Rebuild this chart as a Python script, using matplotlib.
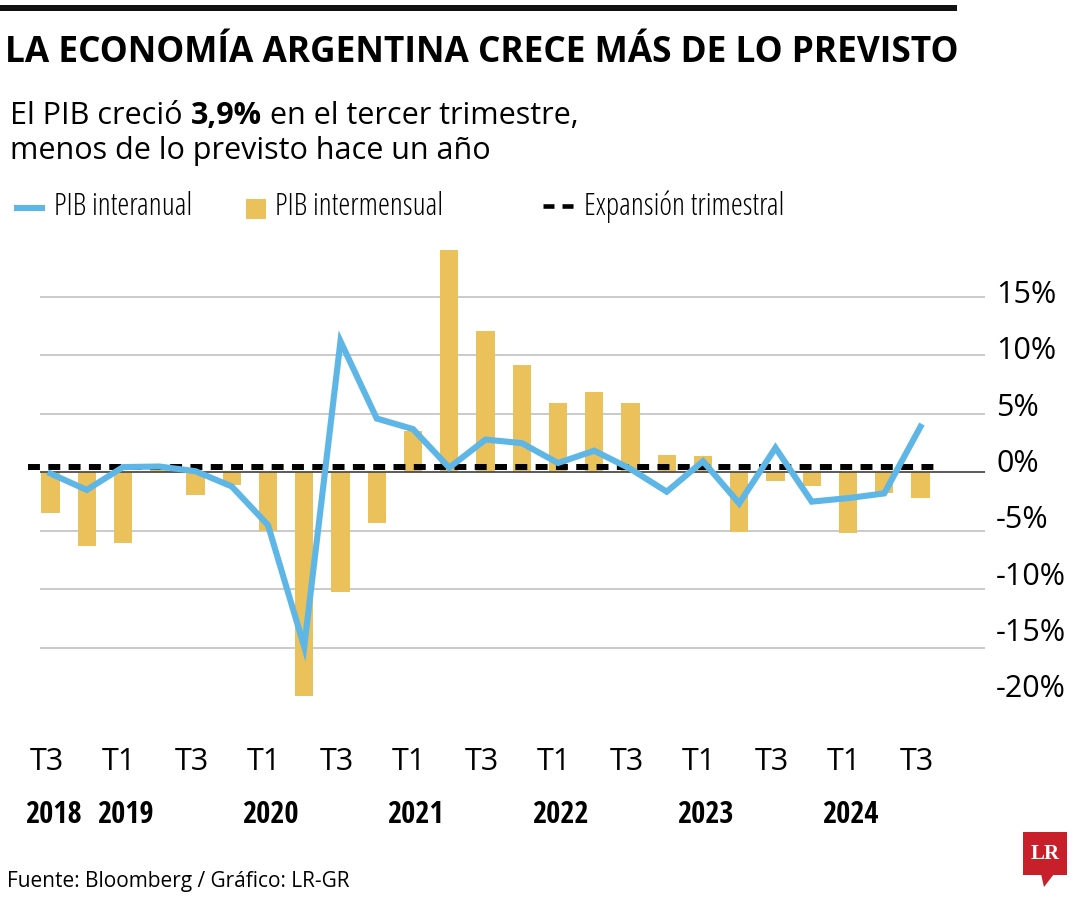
"""Argentina GDP: year-on-year vs quarter figures, La República style."""
import matplotlib

matplotlib.use("Agg")
import matplotlib.pyplot as plt
import matplotlib.transforms as mtransforms
from matplotlib import font_manager
from matplotlib.font_manager import FontProperties
from matplotlib.patches import Polygon, Rectangle
import numpy as np

# --- data ----------------------------------------------------------------
quarters = [
    "2018T3", "2018T4",
    "2019T1", "2019T2", "2019T3", "2019T4",
    "2020T1", "2020T2", "2020T3", "2020T4",
    "2021T1", "2021T2", "2021T3", "2021T4",
    "2022T1", "2022T2", "2022T3", "2022T4",
    "2023T1", "2023T2", "2023T3", "2023T4",
    "2024T1", "2024T2", "2024T3",
]
pib_intermensual = [
    -3.5, -6.3, -6.0, 0.6, -1.9, -1.1, -5.0, -19.1, -10.2, -4.3,
    3.5, 19.0, 12.1, 9.2, 5.9, 6.9, 5.9, 1.5, 1.4, -5.1,
    -0.75, -1.2, -5.2, -1.8, -2.2,
]
pib_interanual = [
    -0.1, -1.5, 0.45, 0.5, 0.1, -1.2, -4.5, -14.9, 11.2, 4.6,
    3.7, 0.4, 2.8, 2.5, 0.8, 1.85, 0.3, -1.65, 0.95, -2.65,
    2.1, -2.5, -2.2, -1.8, 3.9,
]
expansion_trimestral = 0.5

tick_idx = list(range(0, 25, 2))
tick_labels = ["T3", "T1"] * 6 + ["T3"]
year_idx = [0, 2, 6, 10, 14, 18, 22]
year_labels = ["2018", "2019", "2020", "2021", "2022", "2023", "2024"]
y_ticks = [15, 10, 5, 0, -5, -10, -15, -20]
y_tick_labels = ["15%", "10%", "5%", "0%", "-5%", "-10%", "-15%", "-20%"]

# --- style ---------------------------------------------------------------
BLUE = "#5db6e6"
GOLD = "#ebc15b"
GRID = "#c6c6c6"
RED = "#c8202b"

ttf = font_manager.fontManager.ttflist
available = {f.name for f in ttf}
MAIN = "Open Sans" if "Open Sans" in available else "DejaVu Sans"

# condensed faces (legend, years); pick exact files by weight
NARROW_STRETCHES = ("condensed", "semi-condensed", "extra-condensed")
PREF = ["Open Sans", "Noto Sans", "Roboto", "Liberation Sans", "DejaVu Sans"]


def _weight(f):
    w = f.weight
    return font_manager.weight_dict.get(w, 400) if isinstance(w, str) else int(w)


narrow = [f for f in ttf
          if (str(f.stretch) in NARROW_STRETCHES or "Condensed" in f.name
              or "Narrow" in f.name) and f.style == "normal"]


def narrow_file(target_weight):
    if not narrow:
        return None
    best = min(narrow, key=lambda f: (
        next((i for i, p in enumerate(PREF) if f.name.startswith(p)), 99),
        abs(_weight(f) - target_weight)))
    fam = [f for f in narrow if f.name == best.name]
    return min(fam, key=lambda f: abs(_weight(f) - target_weight)).fname


NARROW_REG = narrow_file(400)
NARROW_BOLD = narrow_file(700)


def narrow_font(size, weight="normal"):
    path = NARROW_BOLD if weight == "bold" else NARROW_REG
    if path:
        return FontProperties(fname=path, size=size)
    return FontProperties(family=MAIN, size=size * 0.85, weight=weight)


plt.rcParams["font.family"] = [MAIN, "DejaVu Sans"]

W, H = 1080, 900
fig = plt.figure(figsize=(W / 100, H / 100), dpi=100)


def fx(px):
    return px / W


def fy(py):
    return 1 - py / H


# plot area in pixels: x 28..985, y 240..710
ax = fig.add_axes([fx(28), fy(710), fx(985 - 28), (710 - 240) / H])
x = np.arange(len(quarters))
ax.set_xlim(-0.62, 25.78)
ax.set_ylim(-20.3, 19.85)

for v in [15, 10, 5, -5, -10, -15]:
    ax.hlines(v, -0.29, 25.78, color=GRID, lw=1.3, zorder=1)
ax.hlines(0, -0.29, 25.78, color="#4d4d4d", lw=1.3, zorder=3)

ax.bar(x, pib_intermensual, width=0.5, color=GOLD, zorder=2)
ax.hlines(expansion_trimestral, -0.62, 24.45, color="black", lw=4.3,
          linestyles=(0, (2.0, 1.4)), zorder=4)
ax.plot(x, pib_interanual, color=BLUE, lw=4.4, solid_joinstyle="miter", zorder=5)

for s in ax.spines.values():
    s.set_visible(False)

ax.set_xticks(tick_idx)
ax.set_xticklabels(tick_labels, fontsize=22, family=MAIN)
ax.tick_params(axis="x", length=0, pad=27)
for lab in ax.get_xticklabels():
    lab.set_transform(lab.get_transform() + mtransforms.Affine2D().translate(-4, 0))

ax.yaxis.tick_right()
ax.set_yticks(y_ticks)
ax.set_yticklabels(y_tick_labels, fontsize=22, family=MAIN)
ax.tick_params(axis="y", length=0, pad=8)
for v, lab in zip(y_ticks, ax.get_yticklabels()):
    lab.set_transform(lab.get_transform()
                      + mtransforms.Affine2D().translate(0, 12 - 0.44 * v))

for i, yr in zip(year_idx, year_labels):
    ax.text(i + 0.07, 0, yr, transform=ax.get_xaxis_transform() +
            mtransforms.ScaledTranslation(0, -113 / 100, fig.dpi_scale_trans),
            ha="center", va="baseline", fontproperties=narrow_font(22, "bold"))

# --- header --------------------------------------------------------------
fig.add_artist(Rectangle((0, fy(11)), fx(957), 6 / H, transform=fig.transFigure,
                         color="#111111", lw=0))
fig.text(fx(5), fy(62), "LA ECONOMÍA ARGENTINA CRECE MÁS DE LO PREVISTO",
         fontsize=25.4, fontweight="bold", va="baseline", ha="left")

# subtitle line one, with the bold figure inline
fig.canvas.draw()
renderer = fig.canvas.get_renderer()
cursor = fx(10)
for piece, weight in [("El PIB creció ", "normal"), ("3,9%", "bold"),
                      (" en el tercer trimestre,", "normal")]:
    t = fig.text(cursor, fy(124), piece, fontsize=22, fontweight=weight,
                 va="baseline", ha="left")
    bb = t.get_window_extent(renderer)
    cursor += bb.width / W
fig.text(fx(10), fy(159), "menos de lo previsto hace un año", fontsize=22,
         va="baseline", ha="left")

# legend
LEG = 22
fig.add_artist(plt.Line2D([fx(14), fx(45)], [fy(208), fy(208)], color=BLUE,
                          lw=4.4, solid_capstyle="butt"))
fig.text(fx(54), fy(215), "PIB interanual", fontproperties=narrow_font(LEG),
         va="baseline")
fig.add_artist(Rectangle((fx(246), fy(219)), fx(20), 20 / H,
                         transform=fig.transFigure, color=GOLD, lw=0))
fig.text(fx(275), fy(215), "PIB intermensual", fontproperties=narrow_font(LEG),
         va="baseline")
fig.add_artist(plt.Line2D([fx(543), fx(574)], [fy(206), fy(206)], color="black",
                          lw=3.3, linestyle=(0, (2.4, 1.75)), dash_capstyle="butt"))
fig.text(fx(584), fy(215), "Expansión trimestral", fontproperties=narrow_font(LEG),
         va="baseline")

# source and logo
fig.text(fx(7), fy(887), "Fuente: Bloomberg / Gráfico: LR-GR", fontsize=15,
         va="baseline")
fig.add_artist(Rectangle((fx(1023), fy(875)), fx(44), 43 / H,
                         transform=fig.transFigure, color=RED, lw=0))
fig.add_artist(Polygon([(fx(1041), fy(874)), (fx(1054), fy(874)), (fx(1044), fy(887))],
                       closed=True, transform=fig.transFigure, color=RED, lw=0))
fig.text(fx(1045), fy(854), "LR", color="white", fontsize=15, fontweight="bold",
         family=["Liberation Serif", "DejaVu Serif"], ha="center", va="center")

fig.savefig("out.png", dpi=100)
